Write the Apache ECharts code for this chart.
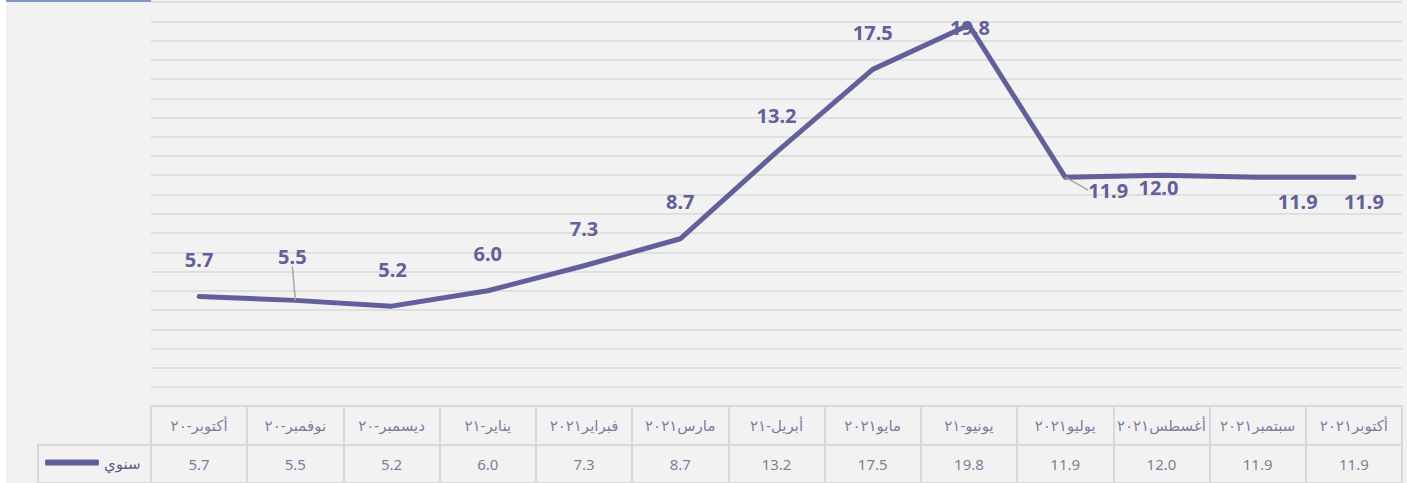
<!DOCTYPE html>
<html>
<head>
<meta charset="utf-8">
<script src="https://cdn.jsdelivr.net/npm/echarts@6/dist/echarts.min.js"></script>
<style>
  html, body { margin: 0; padding: 0; background: #ffffff; }
  #wrap { position: relative; width: 1407px; height: 483px; overflow: hidden; background: #ffffff; }
  #chart { position: absolute; left: 6px; top: 0; width: 1401px; height: 483px; background: #f2f2f2; }
  #topline { position: absolute; left: 6px; top: 0; width: 145px; height: 2px; background: #8097c1; }
</style>
</head>
<body>
<div id="wrap"><div id="chart"></div><div id="topline"></div></div>
<script>
const categories = ["أكتوبر-٢٠", "نوفمبر-٢٠", "ديسمبر-٢٠", "يناير-٢١", "فبراير٢٠٢١", "مارس٢٠٢١", "أبريل-٢١", "مايو٢٠٢١", "يونيو-٢١", "يوليو٢٠٢١", "أغسطس٢٠٢١", "سبتمبر٢٠٢١", "أكتوبر٢٠٢١"];
const values = [5.7, 5.5, 5.2, 6.0, 7.3, 8.7, 13.2, 17.5, 19.8, 11.9, 12.0, 11.9, 11.9];
const seriesName = "سنوي";

// label placement (style only, kept apart from data)
const labelShift = [[0,0],[-3,-7],[1,0],[0,0],[0,0],[0,0],[0,0],[0,0],[1,39],[43,50],[-3,49],[40,61],[10,61]];
const leaderIdx = [1, 9];

const purple = '#62609a';
const grid = '#d9d9d9';
const tableText = '#5e5c86';
const font = '"Noto Sans", "DejaVu Sans", sans-serif';

const chart = echarts.init(document.getElementById('chart'), null, {renderer: 'svg'});

const lineData = values.map((v, i) => leaderIdx.includes(i)
  ? {value: v, labelLine: {show: true}}
  : {value: v});

const option = {
  animation: false,
  backgroundColor: '#f2f2f2',
  textStyle: {fontFamily: font},
  grid: [
    {left: 145, right: 5, top: 2, height: 385},
    {left: 145, right: 5, top: 406, height: 78, show: true, borderColor: grid, borderWidth: 2, backgroundColor: 'transparent'},
    {left: 32, width: 113, top: 445, height: 42, show: true, borderColor: grid, borderWidth: 2, backgroundColor: 'transparent'}
  ],
  legend: {
    data: [seriesName],
    left: 39, top: 455, padding: 0,
    icon: 'roundRect',
    itemWidth: 54, itemHeight: 6,
    itemGap: 0,
    itemStyle: {color: purple, opacity: 1},
    textStyle: {color: tableText, fontSize: 15, fontFamily: font}
  },
  xAxis: [
    {type: 'category', gridIndex: 0, data: categories, boundaryGap: true,
     axisLine: {show: false}, axisTick: {show: false}, axisLabel: {show: false}, splitLine: {show: false}},
    {type: 'category', gridIndex: 1, data: categories, boundaryGap: true,
     axisLine: {show: false}, axisTick: {show: false}, axisLabel: {show: false},
     splitLine: {show: true, interval: 0, lineStyle: {color: grid, width: 2}}},
    {type: 'value', gridIndex: 2, show: false, min: 0, max: 1}
  ],
  yAxis: [
    {type: 'value', gridIndex: 0, min: 1, max: 21, interval: 1,
     axisLine: {show: false}, axisTick: {show: false}, axisLabel: {show: false},
     splitLine: {show: true, lineStyle: {color: grid, width: 1.6}}},
    {type: 'value', gridIndex: 1, min: 0, max: 2, interval: 1,
     axisLine: {show: false}, axisTick: {show: false}, axisLabel: {show: false},
     splitLine: {show: true, lineStyle: {color: grid, width: 2}}},
    {type: 'value', gridIndex: 2, show: false, min: 0, max: 1}
  ],
  series: [
    {
      name: seriesName, type: 'line', xAxisIndex: 0, yAxisIndex: 0,
      data: lineData,
      showSymbol: true, symbol: 'circle', symbolSize: 0.01,
      lineStyle: {color: purple, width: 5, cap: 'round', join: 'round'},
      itemStyle: {color: purple, borderWidth: 0},
      label: {show: true, position: 'top', distance: 27, color: purple, fontWeight: 'bold', fontSize: 20, fontFamily: font,
              formatter: p => values[p.dataIndex].toFixed(1)},
      labelLine: {show: false, lineStyle: {color: '#a6a6a6', width: 1.5}},
      labelLayout: p => ({dx: labelShift[p.dataIndex][0], dy: labelShift[p.dataIndex][1]}),
      z: 5
    },
    {
      name: 'hdr', type: 'scatter', xAxisIndex: 1, yAxisIndex: 1, silent: true,
      symbolSize: 0,
      data: categories.map((c, i) => [i, 1.5]),
      label: {show: true, position: 'inside', color: tableText, fontSize: 15, fontFamily: font,
              formatter: p => categories[p.dataIndex]}
    },
    {
      name: 'val', type: 'scatter', xAxisIndex: 1, yAxisIndex: 1, silent: true,
      symbolSize: 0,
      data: values.map((v, i) => [i, 0.5]),
      label: {show: true, position: 'inside', color: tableText, fontSize: 15, fontFamily: font,
              formatter: p => values[p.dataIndex].toFixed(1)}
    }
  ]
};
chart.setOption(option);
</script>
</body>
</html>
